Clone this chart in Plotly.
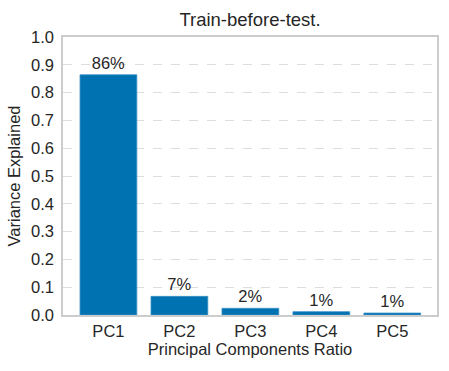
import plotly.graph_objects as go

components = ['PC1', 'PC2', 'PC3', 'PC4', 'PC5']
variance_ratio = [0.864, 0.067, 0.024, 0.012, 0.007]
pct_labels = ['86%', '7%', '2%', '1%', '1%']

font_family = 'Liberation Sans, Arial, sans-serif'
dark = '#262626'

fig = go.Figure()
fig.add_trace(go.Bar(
    x=components, y=variance_ratio,
    text=pct_labels, textposition='outside', cliponaxis=False,
    textfont=dict(size=16.5, color=dark, family=font_family),
    marker=dict(color='#0072B2', line=dict(color='#3a8fc4', width=0.8)),
    width=0.8, hoverinfo='skip',
))

fig.update_layout(
    width=449, height=371,
    margin=dict(l=63, r=12, t=37, b=56, autoexpand=False),
    paper_bgcolor='white', plot_bgcolor='white',
    font=dict(family=font_family, color=dark, size=16.5),
    showlegend=False,
    title=dict(text='Train-before-test.', x=0.5, xanchor='center', xref='paper',
               y=1 - 20 / 371, yref='container', yanchor='middle',
               font=dict(size=18.5, color=dark)),
)
fig.update_xaxes(
    range=[-0.64, 4.63], showgrid=False, ticks='', automargin=False,
    showline=True, linecolor='#cccccc', linewidth=1.5, mirror=True,
    tickfont=dict(size=16.5), title=dict(text='Principal Components Ratio', font=dict(size=16.5), standoff=4),
)
fig.update_yaxes(
    range=[0, 1.0], dtick=0.1, tickformat='.1f', automargin=False,
    showgrid=True, gridcolor='#dddddd', griddash='dash', gridwidth=1,
    showline=True, linecolor='#cccccc', linewidth=1.5, mirror=True,
    zeroline=False, ticks='', ticklabelstandoff=4,
    tickfont=dict(size=16.5), title=dict(text='Variance Explained', font=dict(size=16.5), standoff=6),
)

# page body has a default 8px margin; drop it so the figure sits at the corner
fig.write_html('out.html', config={'displayModeBar': False},
               post_script="document.body.style.margin='0px';")
